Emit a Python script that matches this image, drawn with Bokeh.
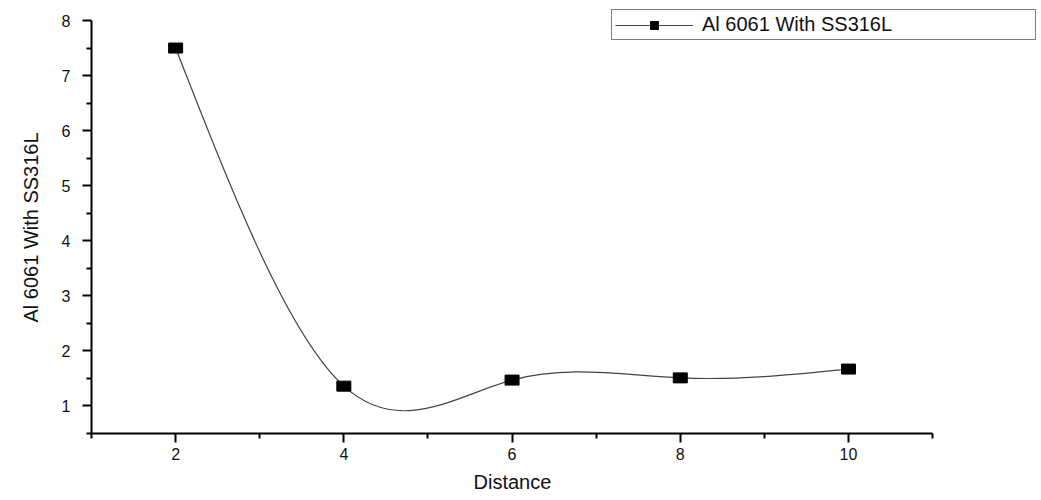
import numpy as np
from bokeh.plotting import figure
from bokeh.models import (FixedTicker, Legend, LegendItem, ColumnDataSource, Range1d, Title)
from bokeh.embed import file_html
from bokeh.resources import INLINE

# ---- data ----
distance = [2, 4, 6, 8, 10]
values = [7.5, 1.36, 1.47, 1.51, 1.67]
series_name = "Al 6061 With SS316L"
x_label = "Distance"
y_label = "Al 6061 With SS316L"
x_major = [2, 4, 6, 8, 10]
x_minor = [1, 3, 5, 7, 9, 11]
y_major = [1, 2, 3, 4, 5, 6, 7, 8]
y_minor = [0.5, 1.5, 2.5, 3.5, 4.5, 5.5, 6.5, 7.5]
x_axis_bounds = (1, 11)
y_axis_bounds = (0.5, 8)

# natural cubic spline -> exact cubic Bezier segments
xs = np.array(distance, dtype=float)
ys = np.array(values, dtype=float)
n = len(xs)
h = np.diff(xs)
A = np.zeros((n, n)); b = np.zeros(n)
A[0, 0] = 1; A[-1, -1] = 1
for i in range(1, n - 1):
    A[i, i - 1] = h[i - 1]
    A[i, i] = 2 * (h[i - 1] + h[i])
    A[i, i + 1] = h[i]
    b[i] = 6 * ((ys[i + 1] - ys[i]) / h[i] - (ys[i] - ys[i - 1]) / h[i - 1])
M = np.linalg.solve(A, b)
slopes = np.zeros(n)
for i in range(n - 1):
    slopes[i] = (ys[i + 1] - ys[i]) / h[i] - h[i] * (2 * M[i] + M[i + 1]) / 6
slopes[-1] = (ys[-1] - ys[-2]) / h[-1] + h[-1] * (M[-2] + 2 * M[-1]) / 6
bez = dict(
    x0=xs[:-1], y0=ys[:-1], x1=xs[1:], y1=ys[1:],
    cx0=xs[:-1] + h / 3, cy0=ys[:-1] + h * slopes[:-1] / 3,
    cx1=xs[1:] - h / 3, cy1=ys[1:] - h * slopes[1:] / 3,
)

# frame: x 90..1038 px, y 5..433 px ; axes drawn only over their bounds
W, H = 1040, 498
left, top, bottom_px, right_px = 90, 5, 433, 1038
axis_top_px, axis_right_px = 20, 932
px_per_x = (axis_right_px - left) / (x_axis_bounds[1] - x_axis_bounds[0])
px_per_y = (bottom_px - axis_top_px) / (y_axis_bounds[1] - y_axis_bounds[0])
x_end = x_axis_bounds[0] + (right_px - left) / px_per_x
y_end = y_axis_bounds[1] + (axis_top_px - top) / px_per_y

p = figure(width=W, height=H, output_backend="svg", toolbar_location=None,
           x_range=Range1d(x_axis_bounds[0], x_end), y_range=Range1d(y_axis_bounds[0], y_end),
           min_border_left=left, min_border_right=W - right_px, min_border_top=top,
           min_border_bottom=H - bottom_px)
p.outline_line_color = None
p.grid.visible = False
p.background_fill_color = "white"
p.border_fill_color = "white"

src = ColumnDataSource(bez)
curve = p.bezier(x0="x0", y0="y0", x1="x1", y1="y1", cx0="cx0", cy0="cy0", cx1="cx1", cy1="cy1",
                 source=src, line_color="#444444", line_width=1.2)
pts = ColumnDataSource(dict(x=distance, y=values))
leg_marker = p.scatter("x", "y", source=pts, marker="square", size=8, color="black")
p.rect("x", "y", width=14, height=10, width_units="screen", height_units="screen",
       source=pts, fill_color="black", line_color="black")

for ax, major, minor, bnds in ((p.xaxis[0], x_major, x_minor, x_axis_bounds),
                               (p.yaxis[0], y_major, y_minor, y_axis_bounds)):
    ax.ticker = FixedTicker(ticks=major, minor_ticks=minor)
    ax.bounds = bnds
    ax.axis_line_width = 2
    ax.axis_line_color = "black"
    ax.major_tick_line_width = 2
    ax.minor_tick_line_width = 2
    ax.major_tick_line_color = "black"
    ax.minor_tick_line_color = "black"
    ax.major_tick_in = 0
    ax.major_tick_out = 9
    ax.minor_tick_in = 0
    ax.minor_tick_out = 5
    ax.major_label_text_font = "Liberation Sans"
    ax.major_label_text_font_size = "16px"
    ax.major_label_text_color = "#111111"

p.xaxis.major_label_standoff = 5
p.yaxis.major_label_standoff = 12

# axis titles placed as titles so that they centre on the drawn axes
p.add_layout(Title(text=x_label, align="left", offset=382, standoff=12,
                   text_font="Liberation Sans", text_font_size="20px",
                   text_font_style="normal", text_color="#111111"), "below")
p.add_layout(Title(text=y_label, align="left", offset=111, standoff=34,
                   text_font="Liberation Sans", text_font_size="20px",
                   text_font_style="normal", text_color="#111111"), "left")

legend = Legend(items=[LegendItem(label=series_name, renderers=[curve, leg_marker])],
                location=(520, 393), orientation="vertical",
                padding=3, margin=0, spacing=0, glyph_width=78, glyph_height=20,
                label_standoff=9, label_width=330, label_height=20,
                label_text_font="Liberation Sans", label_text_font_size="20px",
                label_text_color="#111111",
                border_line_color="black", border_line_width=1.5,
                background_fill_color="white", background_fill_alpha=1)
p.add_layout(legend, "center")

open("out.html", "w").write(file_html(p, INLINE))
